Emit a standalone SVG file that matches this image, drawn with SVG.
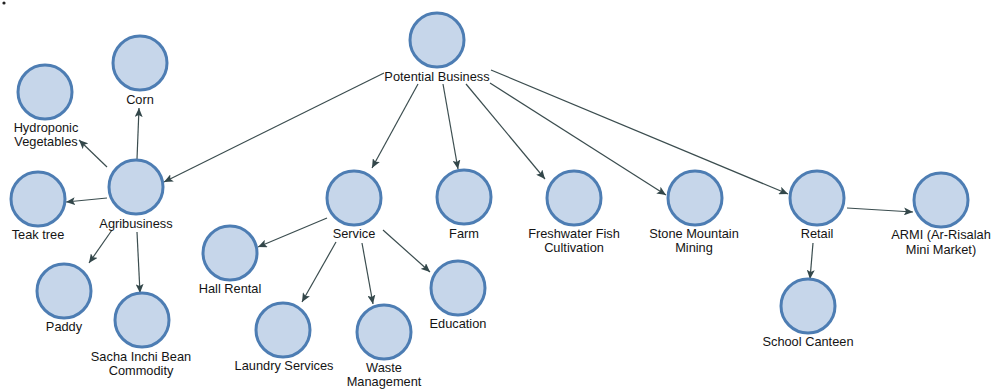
<svg xmlns="http://www.w3.org/2000/svg" width="994" height="389" viewBox="0 0 994 389">
<defs>
<marker id="arr" markerUnits="userSpaceOnUse" markerWidth="10" markerHeight="8" refX="9" refY="4" orient="auto">
<path d="M0,0 L9,4 L0,8 L2,4 Z" fill="#33474a"/>
</marker>
</defs>
<style>
.n circle{fill:#c6d6ea;stroke:#4d7db3;stroke-width:3}
.n text{font-family:"Liberation Sans",Arial,sans-serif;font-size:12.8px;fill:#141414;text-anchor:middle}
#edges line{stroke:#3b4d4f;stroke-width:1.2;marker-end:url(#arr)}
</style>
<rect width="994" height="389" fill="#ffffff"/>
<circle cx="4" cy="3" r="1.6" fill="#222"/>
<g id="edges">
<line x1="384" y1="73" x2="164" y2="182"/>
<line x1="418" y1="84" x2="372" y2="168"/>
<line x1="443" y1="84" x2="458" y2="169"/>
<line x1="466" y1="84" x2="545" y2="179"/>
<line x1="490" y1="83" x2="666" y2="195"/>
<line x1="491" y1="70" x2="788" y2="194"/>
<line x1="137" y1="159" x2="139" y2="108"/>
<line x1="107" y1="167" x2="79" y2="140"/>
<line x1="107" y1="198" x2="66" y2="202"/>
<line x1="112" y1="230" x2="89" y2="263"/>
<line x1="137" y1="232" x2="140" y2="293"/>
<line x1="327" y1="218" x2="258" y2="247"/>
<line x1="336" y1="242" x2="302" y2="302"/>
<line x1="362" y1="243" x2="373" y2="304"/>
<line x1="383" y1="230" x2="430" y2="272"/>
<line x1="847" y1="208" x2="913" y2="212"/>
<line x1="813" y1="243" x2="810" y2="279"/>
</g>
<g id="potential-business" class="n"><circle cx="437" cy="40" r="27"/><text x="437" y="81">Potential Business</text></g>
<g id="corn" class="n"><circle cx="140" cy="63" r="27"/><text x="140" y="104">Corn</text></g>
<g id="hydroponic-vegetables" class="n"><circle cx="45" cy="92" r="27"/><text x="46" y="132">Hydroponic</text><text x="46" y="146">Vegetables</text></g>
<g id="agribusiness" class="n"><circle cx="136" cy="187" r="27"/><text x="136" y="228">Agribusiness</text></g>
<g id="teak-tree" class="n"><circle cx="38" cy="199" r="27"/><text x="38" y="239">Teak tree</text></g>
<g id="paddy" class="n"><circle cx="64" cy="291" r="27"/><text x="64" y="331">Paddy</text></g>
<g id="sacha-inchi" class="n"><circle cx="142" cy="320" r="27"/><text x="141" y="361">Sacha Inchi Bean</text><text x="141" y="375">Commodity</text></g>
<g id="service" class="n"><circle cx="354" cy="198" r="27"/><text x="354" y="238">Service</text></g>
<g id="hall-rental" class="n"><circle cx="230" cy="253" r="27"/><text x="230" y="293">Hall Rental</text></g>
<g id="laundry-services" class="n"><circle cx="283" cy="330" r="27"/><text x="284" y="370">Laundry Services</text></g>
<g id="waste-management" class="n"><circle cx="384" cy="332" r="27"/><text x="384" y="372">Waste</text><text x="384" y="386">Management</text></g>
<g id="education" class="n"><circle cx="458" cy="288" r="27"/><text x="458" y="328">Education</text></g>
<g id="farm" class="n"><circle cx="464" cy="197" r="27"/><text x="464" y="238">Farm</text></g>
<g id="freshwater-fish" class="n"><circle cx="574" cy="198" r="27"/><text x="574" y="238">Freshwater Fish</text><text x="574" y="252">Cultivation</text></g>
<g id="stone-mountain" class="n"><circle cx="695" cy="198" r="27"/><text x="694" y="238">Stone Mountain</text><text x="694" y="252">Mining</text></g>
<g id="retail" class="n"><circle cx="817" cy="198" r="27"/><text x="817" y="238">Retail</text></g>
<g id="armi" class="n"><circle cx="941" cy="200" r="27"/><text x="941" y="239">ARMI (Ar-Risalah</text><text x="941" y="254">Mini Market)</text></g>
<g id="school-canteen" class="n"><circle cx="808" cy="306" r="27"/><text x="808" y="346">School Canteen</text></g>
</svg>
